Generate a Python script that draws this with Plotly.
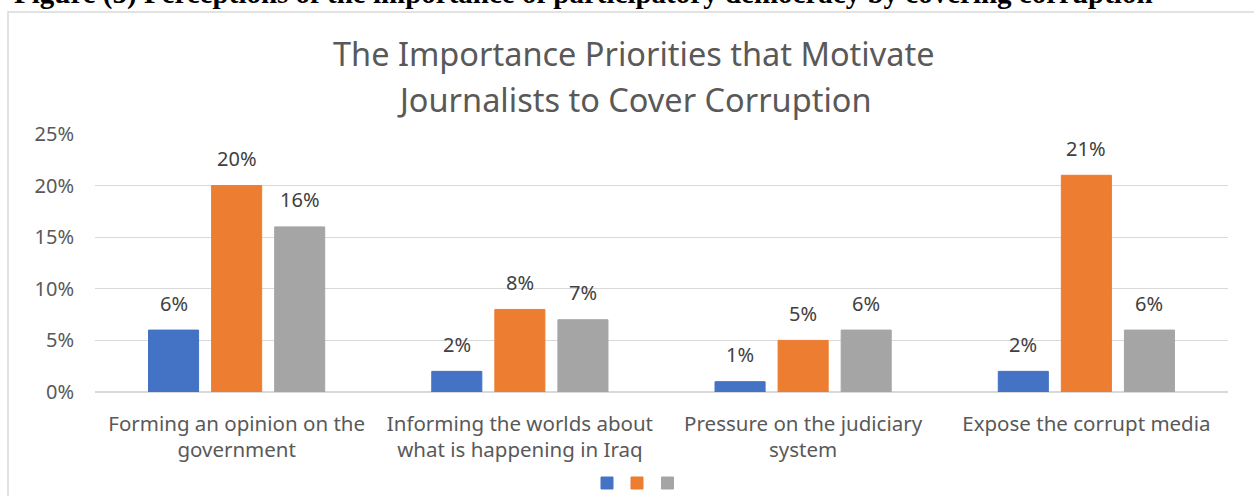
import plotly.graph_objects as go

categories = ["Forming an opinion on the<br>government",
              "Informing the worlds about<br>what is happening in Iraq",
              "Pressure on the judiciary<br>system",
              "Expose the corrupt media"]
series_names = ["", "", ""]
series_values = [
    [0.06, 0.02, 0.01, 0.02],
    [0.20, 0.08, 0.05, 0.21],
    [0.16, 0.07, 0.06, 0.06],
]
series_colors = ["#4472C4", "#ED7D31", "#A5A5A5"]
y_ticks = [0, 0.05, 0.10, 0.15, 0.20, 0.25]
y_tick_labels = ["0%", "5%", "10%", "15%", "20%", "25%"]
title_lines = ["The Importance Priorities that Motivate", "Journalists to Cover Corruption"]
caption = "Figure (5) Perceptions of the importance of participatory democracy by covering corruption"

FONT = "Noto Sans"
L, R, T, B = 95, 26, 134, 104
W, H = 1254, 496
PW, PH = W - L - R, H - T - B
BARGAP, BARGROUPGAP = 0.332, 0.206


def px(x):
    return (x - L) / PW


def py(y):
    return (H - B - y) / PH


slot = PW / len(categories) * (1 - BARGAP) / len(series_values)
legend_keys = ["legend", "legend2", "legend3"]
legend_x = [607 + 2.5, 637 + 2.5, 667.5 + 2.5]

fig = go.Figure()
for i, (name, vals, col) in enumerate(zip(series_names, series_values, series_colors)):
    fig.add_trace(go.Bar(
        x=categories, y=vals, name=name, marker_color=col,
        marker_line=dict(color=col, width=1),
        legend=legend_keys[i],
    ))
    for c, v in zip(categories, vals):
        fig.add_annotation(x=c, y=v, xref="x", yref="y", text=f"{v*100:.0f}%",
                           showarrow=False, xshift=(i - 1) * slot, yshift=27,
                           yanchor="middle",
                           font=dict(size=20, color="#404040", family=FONT))

legend_common = dict(orientation="h", xanchor="center", yanchor="middle",
                     xref="container", yref="container",
                     itemwidth=30, font=dict(size=10), bgcolor="rgba(0,0,0,0)")
fig.update_layout(
    width=W, height=H,
    margin=dict(l=L, r=R, t=T, b=B, autoexpand=False),
    paper_bgcolor="white", plot_bgcolor="white",
    barmode="group", bargap=BARGAP, bargroupgap=BARGROUPGAP,
    font=dict(family=FONT, color="#595959", size=18),
    showlegend=True,
    legend=dict(x=legend_x[0] / W, y=(H - 483) / H, **legend_common),
    legend2=dict(x=legend_x[1] / W, y=(H - 483) / H, **legend_common),
    legend3=dict(x=legend_x[2] / W, y=(H - 483) / H, **legend_common),
)
fig.update_yaxes(range=[0, 0.25], tickvals=y_ticks, ticktext=y_tick_labels,
                 showgrid=True, gridcolor="#D9D9D9", gridwidth=1,
                 zeroline=True, zerolinecolor="#D9D9D9", showline=False,
                 automargin=False,
                 tickfont=dict(size=20, color="#595959"), ticklabelstandoff=20)
fig.update_xaxes(showline=False, tickfont=dict(size=20.5, color="#595959"),
                 automargin=False, ticks="", ticklabelstandoff=17)

# chart title (two lines)
for line, yc in zip(title_lines, [53, 99]):
    fig.add_annotation(text=line, xref="paper", yref="paper", x=px(634), y=py(yc),
                       xanchor="center", yanchor="middle", showarrow=False,
                       font=dict(size=32.5, color="#595959", family=FONT))
# cropped document caption above the chart frame
fig.add_annotation(text=f"<b>{caption}</b>",
                   xref="paper", yref="paper", x=px(12), y=py(-25),
                   xanchor="left", yanchor="top", showarrow=False,
                   font=dict(size=29, color="#000000", family="Liberation Serif"))
# chart frame
fig.add_shape(type="rect", xref="paper", yref="paper",
              x0=px(8), x1=px(1300), y0=py(560), y1=py(12),
              line=dict(color="#D9D9D9", width=1.5), fillcolor="rgba(0,0,0,0)", layer="below")

fig.write_html("out.html", config={"displayModeBar": False},
               post_script="document.body.style.margin='0';")
